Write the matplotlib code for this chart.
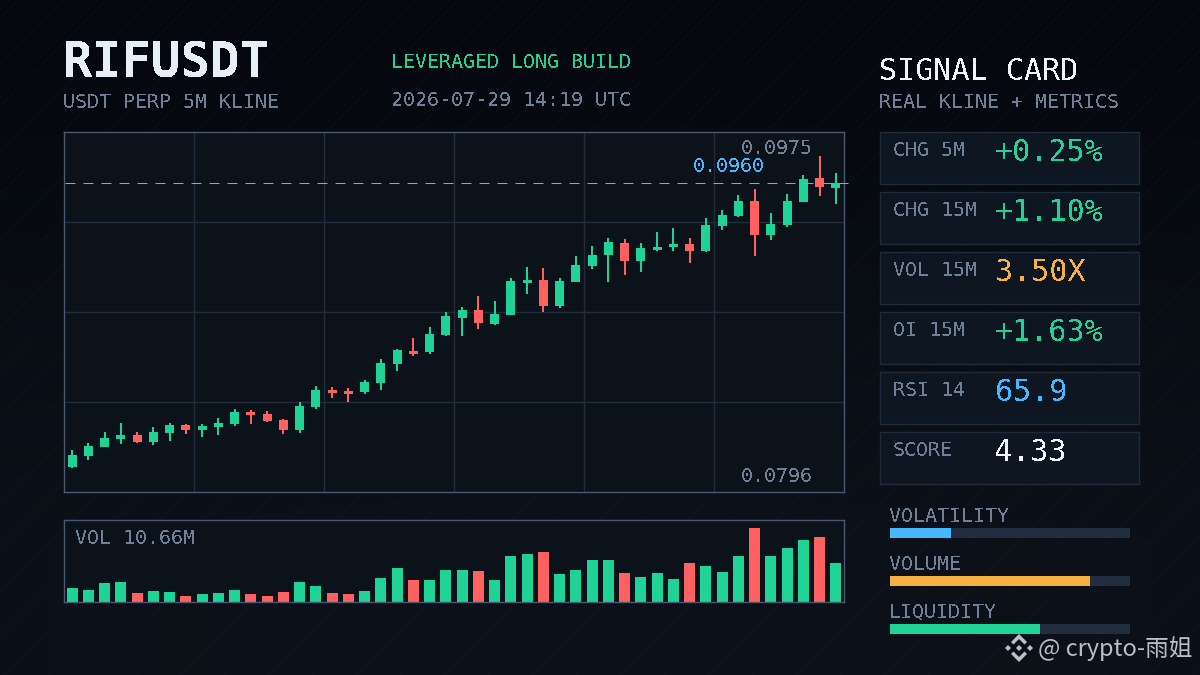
import numpy as np
import matplotlib
matplotlib.use('Agg')
import matplotlib.pyplot as plt
from matplotlib.patches import Rectangle, Polygon

mono = 'DejaVu Sans Mono'

# candles, left to right
opens = [.07966, .08029, .08081, .08126, .08149, .08109, .08161, .08207, .08178, .08195, .08212, .08281,
         .08270, .08235, .08178, .08310, .08408, .08402, .08396, .08448, .08557, .08631, .08626, .08723,
         .08821, .08867, .08786, .08838, .09021, .09039, .08889, .09027, .09119, .09182, .09251, .09148,
         .09211, .09228, .09245, .09205, .09348, .09406, .09492, .09297, .09354, .09486, .09624, .09566]
highs = [.08063, .08104, .08167, .08218, .08167, .08195, .08218, .08212, .08212, .08247, .08298, .08293,
         .08287, .08241, .08339, .08431, .08425, .08419, .08465, .08585, .08643, .08706, .08769, .08855,
         .08884, .08947, .08918, .09050, .09113, .09108, .09050, .09176, .09234, .09280, .09274, .09251,
         .09314, .09337, .09280, .09394, .09440, .09526, .09561, .09423, .09532, .09641, .09750, .09652]
lows = [.07960, .08006, .08081, .08098, .08104, .08092, .08115, .08155, .08138, .08149, .08201, .08212,
        .08224, .08155, .08161, .08298, .08362, .08339, .08385, .08408, .08517, .08603, .08614, .08717,
        .08717, .08758, .08780, .08838, .08958, .08855, .08878, .09027, .09102, .09027, .09067, .09085,
        .09205, .09205, .09136, .09199, .09325, .09400, .09176, .09268, .09343, .09486, .09521, .09475]
closes = [.08035, .08086, .08132, .08149, .08109, .08167, .08207, .08178, .08201, .08218, .08281, .08264,
          .08230, .08178, .08316, .08408, .08390, .08385, .08453, .08562, .08637, .08614, .08729, .08832,
          .08867, .08792, .08844, .09033, .09039, .08889, .09033, .09125, .09182, .09257, .09148, .09222,
          .09228, .09245, .09205, .09354, .09412, .09492, .09297, .09360, .09492, .09618, .09572, .09593]
volumes = [0.88, 0.75, 1.20, 1.27, 0.56, 0.69, 0.62, 0.37, 0.49, 0.56, 0.75, 0.49,
           0.37, 0.62, 1.27, 1.01, 0.56, 0.49, 0.69, 1.53, 2.17, 1.40, 1.40, 2.04,
           2.04, 1.98, 1.40, 2.95, 3.07, 3.20, 1.78, 2.04, 2.69, 2.69, 1.85, 1.59,
           1.85, 1.46, 2.49, 2.30, 1.91, 2.95, 4.75, 2.95, 3.46, 3.98, 4.17, 2.49]

last_price = 0.0960
top_price = 0.0975
low_price = 0.0796

card_names = ['CHG 5M', 'CHG 15M', 'VOL 15M', 'OI 15M', 'RSI 14', 'SCORE']
card_values = ['+0.25%', '+1.10%', '3.50X', '+1.63%', '65.9', '4.33']
meter_names = ['VOLATILITY', 'VOLUME', 'LIQUIDITY']
meter_values = [0.254, 0.833, 0.625]

GREEN = '#1fd397'
RED = '#ff6060'
BLUE = '#46b8ff'
AMBER = '#f7b140'
GREY = '#6f8097'
WHITE = '#e6eef8'
PANEL = '#0b121a'
EDGE = '#4a5870'
GRID = '#232c3c'
card_colors = [GREEN, GREEN, AMBER, GREEN, BLUE, '#f2f6fb']
meter_colors = [BLUE, AMBER, GREEN]

# blocky look for the mono labels, closest thing to the pixel font
plt.rcParams['text.antialiased'] = False

W, H = 1200, 675
fig = plt.figure(figsize=(12, 6.75), dpi=100)


def box(x, y, w, h):
    # pixel box, y measured from the top of the image
    return [x / W, 1 - (y + h) / H, w / W, h / H]


# backdrop
bg = fig.add_axes([0, 0, 1, 1], zorder=0)
yy = np.linspace(0, 1, 200)[:, None]
xx = np.linspace(0, 1, 200)[None, :]
shade = np.clip(yy * 1.25, 0, 1) * (0.6 + 0.4 * (1 - np.abs(xx - 0.5) * 0.6))
c0 = np.array([4, 7, 13]) / 255
c1 = np.array([13, 18, 26]) / 255
bg.imshow(c0 + shade[..., None] * (c1 - c0), extent=[0, W, H, 0], aspect='auto', zorder=0)
for s in range(-700, 1900, 44):
    bg.plot([s, s + 675], [H, 0], color='#1c2531', lw=0.5, alpha=0.4, zorder=1)
bg.set_xlim(0, W)
bg.set_ylim(H, 0)
bg.axis('off')

# price panel
ax = fig.add_axes(box(64, 132, 780, 359.5), zorder=2)
ax.set_facecolor(PANEL)
px = 0.0179 / 312
ax.set_ylim(top_price - 335.5 * px, top_price + 24 * px)
step = 16.25
ax.set_xlim((64 - 72) / step, (844 - 72) / step)
ax.set_xticks([(x - 72) / step for x in (194, 324, 454, 584, 714)])
ax.set_yticks([top_price - (y - 156) * px for y in (222, 312, 402)])
ax.grid(color=GRID, lw=1)
ax.set_axisbelow(True)
ax.tick_params(length=0, labelbottom=False, labelleft=False)
for s in ax.spines.values():
    s.set_color(EDGE)
    s.set_linewidth(1)

x = np.arange(len(opens))
opens = np.array(opens)
closes = np.array(closes)
colors = [GREEN if c >= o else RED for o, c in zip(opens, closes)]
ax.vlines(x, lows, highs, colors=colors, lw=1.44, zorder=3)
ax.bar(x, np.abs(closes - opens), bottom=np.minimum(opens, closes), width=9 / step,
       color=colors, linewidth=0, zorder=3)
ax.plot([(65 - 72) / step, (848 - 72) / step], [closes[-1], closes[-1]], color='#5ab8f0', lw=0.72,
        dashes=(10, 8), zorder=4, clip_on=False)

ax.text(749 / 780, (491.5 - 149) / 359.5, f'{top_price:.4f}', transform=ax.transAxes, color=GREY,
        family=mono, fontsize=14.4, ha='right', va='center', zorder=5)
ax.text(749 / 780, (491.5 - 476) / 359.5, f'{low_price:.4f}', transform=ax.transAxes, color=GREY,
        family=mono, fontsize=14.4, ha='right', va='center', zorder=5)
ax.text(701 / 780, (491.5 - 167) / 359.5, f'{last_price:.4f}', transform=ax.transAxes, color=BLUE,
        family=mono, fontsize=14.4, ha='right', va='center', zorder=5)

# volume panel
vx = fig.add_axes(box(64, 520, 780, 81.5), zorder=2)
vx.set_facecolor(PANEL)
vx.set_xlim(ax.get_xlim())
vx.set_ylim(0, 5.25)
vx.set_xticks([])
vx.set_yticks([])
for s in vx.spines.values():
    s.set_color(EDGE)
    s.set_linewidth(1)
vx.bar(x, volumes, width=11 / step, color=colors, linewidth=0)
vx.text(11 / 780, 1 - 18 / 81.5, 'VOL 10.66M', transform=vx.transAxes, color=GREY,
        family=mono, fontsize=14.4, va='center')

# header text
over = fig.add_axes([0, 0, 1, 1], zorder=3)
over.set_xlim(0, W)
over.set_ylim(H, 0)
over.axis('off')
over.text(63, 63, 'RIFUSDT', color=WHITE, family=mono, fontsize=35.4, weight='bold', va='center')
over.text(63, 103, 'USDT PERP 5M KLINE', color=GREY, family=mono, fontsize=14.4, va='center')
over.text(391, 63, 'LEVERAGED LONG BUILD', color=GREEN, family=mono, fontsize=14.4, va='center')
over.text(391, 101, '2026-07-29 14:19 UTC', color=GREY, family=mono, fontsize=14.4, va='center')
over.text(879, 71, 'SIGNAL CARD', color='#f0f5fb', family=mono, fontsize=21.6, va='center')
over.text(879, 103, 'REAL KLINE + METRICS', color=GREY, family=mono, fontsize=14.4, va='center')

# metric cards
for i, (name, val, col) in enumerate(zip(card_names, card_values, card_colors)):
    top = 132 + 60 * i
    over.add_patch(Rectangle((880, top), 259, 51.5, facecolor='#0e1621', edgecolor='#1f2a3a', lw=1))
    over.text(893, top + 18.5, name, color=GREY, family=mono, fontsize=14.4, va='center')
    over.text(995, top + 20.5, val, color=col, family=mono, fontsize=21.6, va='center')

# meters
for i, (name, val, col) in enumerate(zip(meter_names, meter_values, meter_colors)):
    top = 528 + 48 * i
    over.text(889, top - 6, name, color=GREY, family=mono, fontsize=14.4, va='baseline')
    over.add_patch(Rectangle((890, top), 240, 10, facecolor='#222e40', lw=0))
    over.add_patch(Rectangle((890, top), 240 * val, 10, facecolor=col, lw=0))

# watermark
mark = '#b9c0c8'
cx, cy = 1019, 648
chevron = np.array([(0, -14), (8, -6), (5.5, -3.5), (0, -9), (-5.5, -3.5), (-8, -6)])
over.add_patch(Polygon(chevron + (cx, cy), facecolor=mark, lw=0))
over.add_patch(Polygon(chevron * (1, -1) + (cx, cy), facecolor=mark, lw=0))
for dx in (-11, 0, 11):
    over.add_patch(Polygon([(cx + dx, cy - 3), (cx + dx + 3, cy), (cx + dx, cy + 3), (cx + dx - 3, cy)],
                           facecolor=mark, lw=0))
over.text(1038, 649, '@ crypto-雨姐', color=mark, fontsize=17, va='center', antialiased=True,
          family=['Noto Sans CJK SC', 'DejaVu Sans'])

fig.savefig('out.png', dpi=100)
